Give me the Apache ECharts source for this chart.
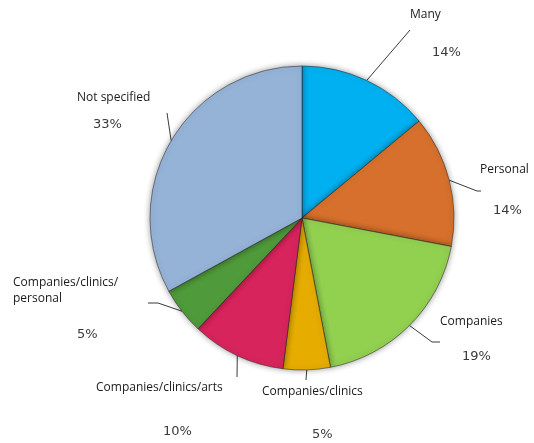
<!DOCTYPE html>
<html>
<head>
<meta charset="utf-8">
<script src="https://cdn.jsdelivr.net/npm/echarts@6/dist/echarts.min.js"></script>
<style>
  html, body { margin: 0; padding: 0; background: #ffffff; }
  #chart { width: 534px; height: 443px; }
</style>
</head>
<body>
<div id="chart"></div>
<script>
// Slice names, shares (percent) and fills, clockwise from 12 o'clock
const categories = [
  'Many',
  'Personal',
  'Companies',
  'Companies/clinics',
  'Companies/clinics/arts',
  'Companies/clinics/\npersonal',
  'Not specified'
];
const shares = [14, 14, 19, 5, 10, 5, 33];
const sliceColors = ['#00B0F0', '#D6702C', '#92D050', '#E6AC00', '#D8245C', '#4F9A3A', '#95B3D7'];

// Label placement: top-left corner of each name block
const labelBox = [[410, 7], [480, 162], [440, 314], [262, 384], [96, 380], [13, 275], [77, 90]];
// distance between the last name line and the percentage line, and the percentage indent
const pctGap = [39, 42, 36, 44, 45, 37, 28];
const pctIndent = [22, 13, 22, 50, 67, 64, 16];
// leader lines run from the slice edge through a bend to an end point next to the label
const leaderBend = [[410, 30], [477, 191], [432, 342], [306, 380], [237, 377], [158, 303], [167, 113]];
const leaderEnd  = [[410, 30], [481, 191], [440, 342], [306, 380], [237, 377], [148, 303], [167, 113]];

const rich = {
  n: { fontFamily: 'Open Sans', fontSize: 12, lineHeight: 16, color: '#1a1a1a' }
};
shares.forEach(function (_, i) {
  rich['p' + i] = {
    fontFamily: 'DejaVu Sans',
    fontSize: 13,
    color: '#3a3a3a',
    padding: [pctGap[i] - 16, 0, 0, pctIndent[i]]
  };
});

const chart = echarts.init(document.getElementById('chart'), null, { renderer: 'canvas' });

chart.setOption({
  animation: false,
  backgroundColor: '#ffffff',
  series: [{
    type: 'pie',
    center: [302, 218],
    radius: 152,
    startAngle: 90,
    clockwise: true,
    avoidLabelOverlap: false,
    data: categories.map(function (name, i) {
      return { name: name, value: shares[i], itemStyle: { color: sliceColors[i] } };
    }),
    itemStyle: {
      borderColor: 'rgba(30,30,30,0.5)',
      borderWidth: 1,
      shadowBlur: 6,
      shadowColor: 'rgba(0,0,0,0.4)'
    },
    emphasis: { disabled: true },
    label: {
      show: true,
      position: 'outside',
      formatter: function (p) {
        const lines = p.name.split('\n').map(function (s) { return '{n|' + s + '}'; });
        lines.push('{p' + p.dataIndex + '|' + p.value + '%}');
        return lines.join('\n');
      },
      rich: rich
    },
    labelLine: {
      show: true,
      lineStyle: { color: '#3a3a3a', width: 1 }
    },
    labelLayout: function (p) {
      const i = p.dataIndex;
      const start = p.labelLinePoints ? p.labelLinePoints[0] : leaderBend[i];
      return {
        x: labelBox[i][0],
        y: labelBox[i][1],
        align: 'left',
        verticalAlign: 'top',
        labelLinePoints: [start, leaderBend[i], leaderEnd[i]]
      };
    }
  }]
});
</script>
</body>
</html>
